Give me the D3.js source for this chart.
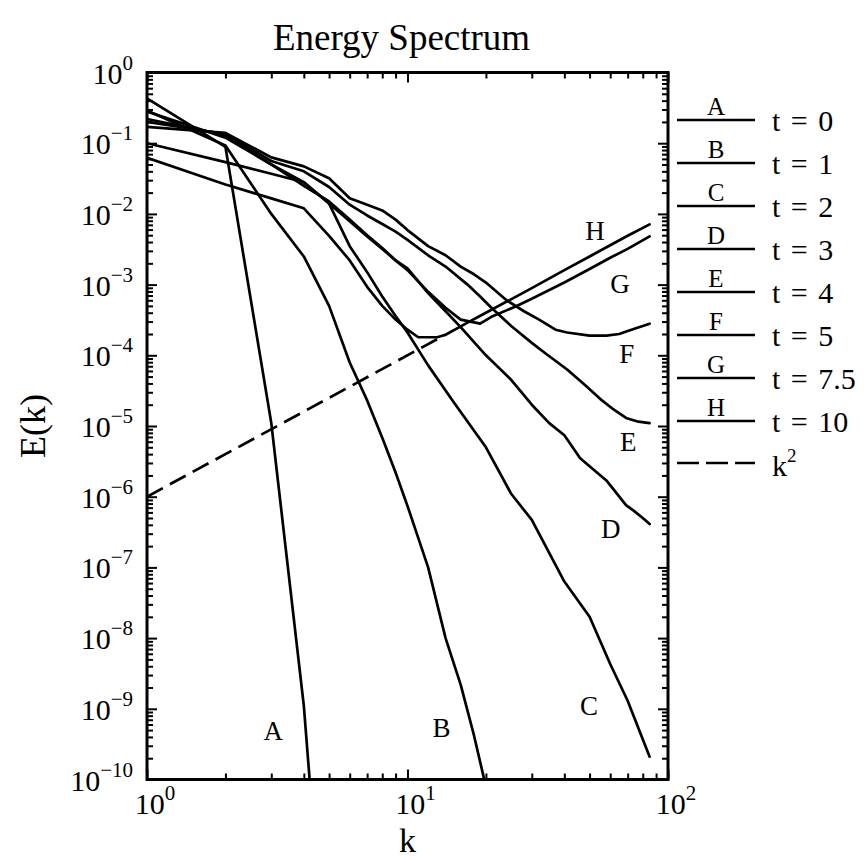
<!DOCTYPE html>
<html><head><meta charset="utf-8">
<script src="https://cdn.jsdelivr.net/npm/d3@7/dist/d3.min.js"></script>
<style>body{margin:0;background:#fff}svg text{font-family:"Liberation Serif","Times New Roman",serif;fill:#000}</style>
</head><body>
<svg id="chart" width="864" height="860"></svg>
<script>
// ---- data ----
const kA=[1,2,3,4,5];
const eA=[0.43,0.089,1.1e-5,1.1e-9,3.2e-14];
const kB=[1,2,3,4,5,6,7,8,9,10,12,14,16,18,20];
const eB=[0.29,0.093,1.0e-2,2.5e-3,5.0e-4,7.9e-5,2.3e-5,6.8e-6,2.2e-6,7.4e-7,1.0e-7,1.0e-8,2.2e-9,4.2e-10,7.9e-11];
const kC=[1,2,3,4,5,6,7,8,9,10,12,15,20,25,30,40,50,60,70,80,85];
const eC=[0.28,0.12,0.05,0.028,0.014,3.5e-3,1.5e-3,6.8e-4,3.6e-4,2.1e-4,7.2e-5,2.2e-5,5.0e-6,1.1e-6,4.7e-7,6.3e-8,2.0e-8,4.3e-9,1.3e-9,3.7e-10,2.1e-10];
const kD=[1,2,3,4,5,6,7,8,9,10,12,14,16,20,25,30,35,40,46,58,69,74,80,85];
const eD=[0.22,0.13,0.05,0.025,0.015,8.3e-3,5.0e-3,3.3e-3,2.2e-3,1.7e-3,7.6e-4,4.2e-4,2.5e-4,1.0e-4,4.5e-5,2.0e-5,1.1e-5,7.4e-6,3.5e-6,1.7e-6,7.6e-7,6.3e-7,5.0e-7,4.1e-7];
const kE=[1,2,3,4,5,6,7,8,9,10,12,14,17,19,21,25,30,34,41,48,55,62,69,77,85];
const eE=[0.2,0.135,0.056,0.04,0.024,0.0135,9.5e-3,7.2e-3,5.6e-3,4.3e-3,2.6e-3,1.8e-3,1.0e-3,6.8e-4,4.7e-4,2.6e-4,1.5e-4,1.05e-4,6.3e-5,3.8e-5,2.4e-5,1.7e-5,1.3e-5,1.15e-5,1.1e-5];
const kF=[1,2,3,4,5,6,7,8,9,10,12,14,16,18,20,24,28,32,37,41,50,58,65,70,85];
const eF=[0.17,0.14,0.063,0.047,0.032,0.0166,0.0135,0.0112,8.3e-3,5.9e-3,3.5e-3,2.6e-3,1.8e-3,1.4e-3,1.07e-3,6.0e-4,4.2e-4,3.2e-4,2.3e-4,2.1e-4,1.9e-4,1.9e-4,2.0e-4,2.2e-4,2.8e-4];
const kG=[1,2,3,4,5,6,7,8,9,10,12,14,16,19,21,26,30,40,50,60,70,85];
const eG=[0.1,0.054,0.037,0.028,0.014,7.9e-3,4.8e-3,3.2e-3,2.2e-3,1.6e-3,7.9e-4,4.7e-4,3.2e-4,2.8e-4,3.5e-4,4.9e-4,6.3e-4,1.07e-3,1.66e-3,2.4e-3,3.2e-3,4.8e-3];
const kH=[1,2,3,4,5,6,7,8,9,10,11,12,13,14,17,20,30,40,50,60,70,85];
const eH=[0.062,0.026,0.0166,0.012,4.9e-3,2.2e-3,9.3e-4,5.0e-4,3.2e-4,2.3e-4,1.8e-4,1.8e-4,1.8e-4,1.95e-4,2.9e-4,4.0e-4,8.9e-4,1.6e-3,2.5e-3,3.6e-3,4.9e-3,7.1e-3];
const kRef=[1,14];
const eRef=[1e-6,1.96e-4];
const curveNames=["A","B","C","D","E","F","G","H"];
const legendTimes=["t = 0","t = 1","t = 2","t = 3","t = 4","t = 5","t = 7.5","t = 10"];
const labelK=[3.05,13.5,49.8,60.3,70.4,69.4,65.4,52.5];
const labelE=[4.9e-10,5.4e-10,1.1e-9,3.5e-7,6.0e-6,1.07e-4,1.05e-3,5.9e-3];
const yTickExp=[0,-1,-2,-3,-4,-5,-6,-7,-8,-9,-10];
const xTickExp=[0,1,2];
const titleText="Energy Spectrum";

// ---- layout ----
const L=147,R=668,T=72.5,B=779.5;
const svg=d3.select("#chart");
const x=d3.scaleLog().domain([1,100]).range([L,R]);
const y=d3.scaleLog().domain([1e-10,1]).range([B,T]);

const ks=[kA,kB,kC,kD,kE,kF,kG,kH], es=[eA,eB,eC,eD,eE,eF,eG,eH];

svg.append("defs").append("clipPath").attr("id","clip").append("rect")
  .attr("x",L).attr("y",T).attr("width",R-L).attr("height",B-T);

// ticks
const xMajor=xTickExp.map(e=>Math.pow(10,e));
const xMinor=[];for(const e of [0,1])for(let m=2;m<=9;m++)xMinor.push(m*Math.pow(10,e));
const yMajor=yTickExp.map(e=>Math.pow(10,e));
const yMinor=[];for(let e=-10;e<0;e++)for(let m=2;m<=9;m++)yMinor.push(m*Math.pow(10,e));

function styleAxis(g){g.select(".domain").remove();g.selectAll("line").attr("stroke","#000").attr("stroke-width",2);}
svg.append("g").attr("transform",`translate(0,${B})`).call(d3.axisBottom(x).tickValues(xMajor).tickSize(-10).tickFormat("")).call(styleAxis);
svg.append("g").attr("transform",`translate(0,${B})`).call(d3.axisBottom(x).tickValues(xMinor).tickSize(-6).tickFormat("")).call(styleAxis);
svg.append("g").attr("transform",`translate(0,${T})`).call(d3.axisTop(x).tickValues(xMajor).tickSize(-10).tickFormat("")).call(styleAxis);
svg.append("g").attr("transform",`translate(0,${T})`).call(d3.axisTop(x).tickValues(xMinor).tickSize(-6).tickFormat("")).call(styleAxis);
svg.append("g").attr("transform",`translate(${L},0)`).call(d3.axisLeft(y).tickValues(yMajor).tickSize(-10).tickFormat("")).call(styleAxis);
svg.append("g").attr("transform",`translate(${L},0)`).call(d3.axisLeft(y).tickValues(yMinor).tickSize(-6).tickFormat("")).call(styleAxis);
svg.append("g").attr("transform",`translate(${R},0)`).call(d3.axisRight(y).tickValues(yMajor).tickSize(-10).tickFormat("")).call(styleAxis);
svg.append("g").attr("transform",`translate(${R},0)`).call(d3.axisRight(y).tickValues(yMinor).tickSize(-6).tickFormat("")).call(styleAxis);

// curves
const line=d3.line().x(d=>x(d[0])).y(d=>y(d[1]));
const plot=svg.append("g").attr("clip-path","url(#clip)");
ks.forEach((kk,i)=>{
  plot.append("path").datum(kk.map((k,j)=>[k,es[i][j]]))
    .attr("d",line).attr("fill","none").attr("stroke","#000")
    .attr("stroke-width",2.7).attr("stroke-linejoin","round").attr("stroke-linecap","round");
});
plot.append("path").datum(kRef.map((k,j)=>[k,eRef[j]])).attr("d",line)
  .attr("fill","none").attr("stroke","#000").attr("stroke-width",2.7).attr("stroke-dasharray","18,8");

// frame
svg.append("rect").attr("x",L).attr("y",T).attr("width",R-L).attr("height",B-T)
  .attr("fill","none").attr("stroke","#000").attr("stroke-width",3);

// curve labels
curveNames.forEach((n,i)=>{
  svg.append("text").attr("x",x(labelK[i])).attr("y",y(labelE[i])).attr("dy","0.35em")
    .attr("text-anchor","middle").attr("font-size",27).text(n);
});

// tick labels
yTickExp.forEach(e=>{
  const t=svg.append("text").attr("x",L-14).attr("y",y(Math.pow(10,e))+11).attr("text-anchor","end").attr("font-size",30);
  t.append("tspan").text("10");
  t.append("tspan").attr("font-size",21).attr("dy",-14).text(e<0?"\u2212"+(-e):String(e));
});
xTickExp.forEach(e=>{
  const t=svg.append("text").attr("x",x(Math.pow(10,e))+8).attr("y",B+34).attr("text-anchor","middle").attr("font-size",30);
  t.append("tspan").text("10");
  t.append("tspan").attr("font-size",21).attr("dy",-14).text(String(e));
});

// axis titles
svg.append("text").attr("x",x(10)).attr("y",B+72).attr("text-anchor","middle").attr("font-size",34).text("k");
svg.append("text").attr("transform",`translate(45,${(T+B)/2}) rotate(-90)`).attr("text-anchor","middle").attr("font-size",36).text("E(k)");
svg.append("text").attr("x",(L+R)/2-6).attr("y",50).attr("text-anchor","middle").attr("font-size",37).text(titleText);

// legend
const lg=svg.append("g");
curveNames.forEach((n,i)=>{
  const ly=120+i*43;
  lg.append("line").attr("x1",677).attr("x2",755).attr("y1",ly).attr("y2",ly).attr("stroke","#000").attr("stroke-width",2.7);
  lg.append("text").attr("x",716).attr("y",ly-5).attr("text-anchor","middle").attr("font-size",25).text(n);
  lg.append("text").attr("x",772).attr("y",ly+11).attr("font-size",30).attr("word-spacing",3).attr("xml:space","preserve").text(legendTimes[i]);
});
const dy=120+8*43-1;
lg.append("line").attr("x1",677).attr("x2",755).attr("y1",dy).attr("y2",dy).attr("stroke","#000").attr("stroke-width",2.7).attr("stroke-dasharray","22,7");
const kt=lg.append("text").attr("x",772).attr("y",dy+13).attr("font-size",30);
kt.append("tspan").text("k");
kt.append("tspan").attr("font-size",19).attr("dy",-14).text("2");
</script>
</body></html>
